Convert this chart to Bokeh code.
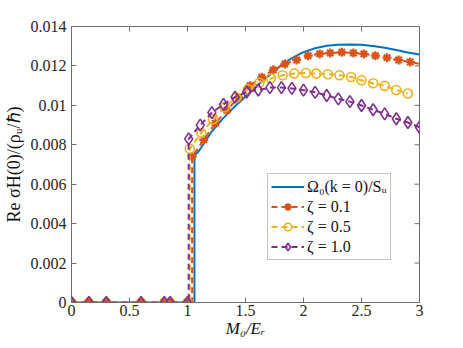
from math import pi
from bokeh.plotting import figure
from bokeh.models import (Range1d, LinearAxis, FixedTicker, Legend, LegendItem,
                          CustomJSTickFormatter)
from bokeh.embed import file_html
from bokeh.resources import INLINE

# ---------------- data ----------------
zero_x = [0.0, 0.15, 0.3, 0.6, 0.8, 0.85, 1.0]

omega_jump = 1.06
omega_x = [1.06, 1.1, 1.2, 1.3, 1.4, 1.5, 1.6, 1.7, 1.8, 1.9, 2.0, 2.1, 2.2, 2.3,
           2.4, 2.5, 2.6, 2.7, 2.8, 2.9, 3.0]
omega_y = [0.00745, 0.0077, 0.0086, 0.0093, 0.0099, 0.01045, 0.0110, 0.0115, 0.0120,
           0.01240, 0.01270, 0.01290, 0.01302, 0.01307, 0.01309, 0.01307, 0.01301,
           0.01292, 0.01281, 0.01268, 0.01258]

z01_jump = 1.04
z01_x = [1.04, 1.14, 1.24, 1.34, 1.44, 1.54, 1.64, 1.74, 1.84, 1.94, 2.04, 2.14,
         2.23, 2.33, 2.43, 2.52, 2.62, 2.72, 2.82, 2.92]
z01_y = [0.0074, 0.00825, 0.0091, 0.00975, 0.0104, 0.0110, 0.01143, 0.0118, 0.0121,
         0.0123, 0.01252, 0.01261, 0.01266, 0.01269, 0.01266, 0.01261, 0.01252,
         0.01242, 0.01230, 0.01220]
z01_end_x = 3.0
z01_end_y = 0.0121

z05_jump = 1.02
z05_x = [1.02, 1.12, 1.22, 1.32, 1.42, 1.52, 1.62, 1.72, 1.82, 1.92, 2.02, 2.11,
         2.21, 2.31, 2.41, 2.50, 2.60, 2.70, 2.80, 2.90]
z05_y = [0.0078, 0.0086, 0.0093, 0.0099, 0.01040, 0.01082, 0.01115, 0.01137, 0.01153,
         0.01162, 0.01164, 0.01161, 0.01158, 0.01153, 0.01144, 0.01127, 0.01112,
         0.01099, 0.01078, 0.01060]

z10_jump = 1.01
z10_x = [1.01, 1.11, 1.21, 1.31, 1.41, 1.51, 1.61, 1.71, 1.81, 1.90, 2.00, 2.10,
         2.20, 2.30, 2.40, 2.50, 2.60, 2.70, 2.80, 2.90, 3.00]
z10_y = [0.0083, 0.0090, 0.00963, 0.01005, 0.01042, 0.01068, 0.01078, 0.01090, 0.01090,
         0.01086, 0.01077, 0.01066, 0.01050, 0.01033, 0.01019, 0.00999, 0.00978,
         0.00957, 0.00932, 0.00913, 0.00889]

x_ticks = [0, 0.5, 1, 1.5, 2, 2.5, 3]
y_ticks = [0, 0.002, 0.004, 0.006, 0.008, 0.01, 0.012, 0.014]
x_min, x_max = 0.0, 3.0
y_min, y_max = 0.0, 0.014

x_label = "M₀/Eᵣ"
y_label = "Re σH(0)/(ρᵤ/ℏ)"
legend_labels = ["Ω₀(k = 0)/Sᵤ", "ζ = 0.1", "ζ = 0.5", "ζ = 1.0"]

# ---------------- styling ----------------
BLUE, ORANGE, YELLOW, PURPLE = "#0072BD", "#D95319", "#EDB120", "#7E2F8E"
AX = "#6e6e6e"
FONT = "Liberation Serif"
TXT = "#111111"

W, H = 455, 340          # fits the 463x348 window with its 8px margin

p = figure(width=W, height=H, output_backend="svg", toolbar_location=None,
           x_range=Range1d(x_min, x_max), y_range=Range1d(y_min, y_max),
           x_axis_location=None, y_axis_location=None,
           min_border_left=68, min_border_right=W - 68 - 351,
           min_border_top=26, min_border_bottom=H - 26 - 276)
p.grid.visible = False
p.outline_line_color = AX
p.background_fill_color = "white"
p.border_fill_color = "white"

fmt = CustomJSTickFormatter(code="return String(parseFloat(tick.toFixed(6)));")


def make_axis(ticks, standoff, label, label_style, label_size, label_standoff):
    return LinearAxis(ticker=FixedTicker(ticks=ticks, minor_ticks=[]), formatter=fmt,
                      axis_line_color=AX, major_tick_line_color=AX, minor_tick_line_color=None,
                      major_tick_in=5, major_tick_out=0,
                      major_label_text_font=FONT, major_label_text_font_size="16px",
                      major_label_text_color="#262626", major_label_standoff=standoff,
                      axis_label=label, axis_label_standoff=label_standoff,
                      axis_label_text_font=FONT, axis_label_text_font_style=label_style,
                      axis_label_text_font_size=label_size, axis_label_text_color=TXT)


p.add_layout(make_axis(x_ticks, 2, x_label, "italic", "17px", 0), "below")
p.add_layout(make_axis(y_ticks, 5, y_label, "normal", "18px", 4), "left")

# ticks on the top and right edges of the box (half of each dash is clipped away)
p.scatter(x_ticks, [y_max] * len(x_ticks), marker="dash", angle=pi / 2, size=10,
          line_color=AX, line_width=1)
p.scatter([x_max] * len(y_ticks), y_ticks, marker="dash", size=10,
          line_color=AX, line_width=1)

# ---------------- series ----------------
zeros = [0.0] * len(zero_x)

r_blue = p.line([0.0, omega_jump] + omega_x, [0.0, 0.0] + omega_y,
                line_color=BLUE, line_width=2)

DASH = "6 4"
r_o_line = p.line(zero_x + [z01_jump] + z01_x + [z01_end_x],
                  zeros + [0.0] + z01_y + [z01_end_y],
                  line_color=ORANGE, line_width=2, line_dash=DASH)
r_o_mk = p.scatter(zero_x + z01_x, zeros + z01_y, marker="asterisk", size=9,
                   line_color=ORANGE, line_width=2.2)

r_y_line = p.line(zero_x + [z05_jump] + z05_x, zeros + [0.0] + z05_y,
                  line_color=YELLOW, line_width=2, line_dash=DASH)
r_y_mk = p.scatter(zero_x + z05_x, zeros + z05_y, marker="circle", size=9,
                   line_color=YELLOW, fill_color=None, line_width=1.6)

r_p_line = p.line(zero_x + [z10_jump] + z10_x, zeros + [0.0] + z10_y,
                  line_color=PURPLE, line_width=2, line_dash=DASH)
r_p_mk = p.scatter(zero_x + z10_x, zeros + z10_y, marker="diamond", size=12,
                   line_color=PURPLE, fill_color=None, line_width=1.6)

legend = Legend(items=[
    LegendItem(label=legend_labels[0], renderers=[r_blue]),
    LegendItem(label=legend_labels[1], renderers=[r_o_line, r_o_mk]),
    LegendItem(label=legend_labels[2], renderers=[r_y_line, r_y_mk]),
    LegendItem(label=legend_labels[3], renderers=[r_p_line, r_p_mk]),
], location=(196, 42), orientation="vertical",
    label_text_font=FONT, label_text_font_size="16px", label_text_color=TXT,
    glyph_width=33, glyph_height=19, label_height=19, label_standoff=3,
    spacing=1, padding=3, margin=0,
    border_line_color="#8a8a8a", border_line_width=1,
    background_fill_color="white", background_fill_alpha=1.0)
p.add_layout(legend)

open("out.html", "w").write(file_html(p, INLINE))
